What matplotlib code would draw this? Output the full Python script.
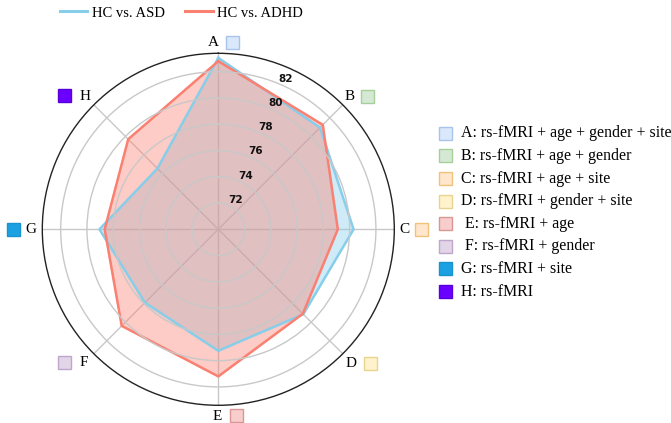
import numpy as np
import matplotlib.pyplot as plt
from matplotlib.patches import Rectangle
from matplotlib.lines import Line2D

# Axis letters and the feature set behind each one
letters = ["A", "B", "C", "D", "E", "F", "G", "H"]
feature_sets = [
    "A: rs-fMRI + age + gender + site",
    "B: rs-fMRI + age + gender",
    "C: rs-fMRI + age + site",
    "D: rs-fMRI + gender + site",
    " E: rs-fMRI + age",
    " F: rs-fMRI + gender",
    "G: rs-fMRI + site",
    "H: rs-fMRI",
]

# Accuracy (%) per feature set
asd = [83.05, 80.95, 80.3, 79.15, 79.25, 77.9, 79.05, 76.55]
adhd = [82.8, 81.25, 79.1, 79.1, 81.2, 80.4, 78.65, 79.7]

r_ticks = [72, 74, 76, 78, 80, 82]

# square colours (face, edge)
sq_face = ["#DAE8FC", "#D5E8D4", "#FFE6CC", "#FFF2CC", "#F8CECC", "#E1D5E7", "#1BA1E2", "#6A00FF"]
sq_edge = ["#A9C4EB", "#A7CF9A", "#F0C27A", "#E8D48E", "#D99694", "#C0A6CC", "#1893CF", "#5A00DD"]

blue = "#87CEEB"
red = "#FA8072"

plt.rcParams["font.family"] = ["Liberation Serif", "DejaVu Serif"]

fig = plt.figure(figsize=(6.71, 4.23), dpi=100)
W, H = 671, 423
cx, cy, R = 218.3, 229.3, 176
ax = fig.add_axes([(cx - R) / W, (H - cy - R) / H, 2 * R / W, 2 * R / H], polar=True)
ax.set_theta_offset(np.pi / 2)
ax.set_theta_direction(-1)

theta = np.linspace(0, 2 * np.pi, len(letters), endpoint=False)
th = np.append(theta, theta[0])

ax.fill(th, asd + asd[:1], color=blue, alpha=0.4, zorder=2)
ax.plot(th, asd + asd[:1], color=blue, lw=1.8, zorder=3)
ax.fill(th, adhd + adhd[:1], color=red, alpha=0.4, zorder=2)
ax.plot(th, adhd + adhd[:1], color=red, lw=1.8, zorder=3)

ax.set_ylim(70, 83.4)
ax.set_yticks(r_ticks)
ax.set_yticklabels([str(t) for t in r_ticks], family="DejaVu Sans", fontweight="bold",
                   fontsize=7.5, color="#111111")
ax.set_rlabel_position(22.5)
ax.set_xticks(theta)
ax.set_xticklabels([])
ax.grid(color="#c8c8c8", lw=1)
ax.yaxis.set_zorder(4)
ax.spines["polar"].set_color("#222222")
ax.spines["polar"].set_linewidth(1)

# letter + square offsets (pixels) from the outer circle
letter_off = [(-5, 11), (7, 8), (10, 0), (8, -10), (-1, -11), (-10, -9), (-11, 0), (-9, 8)]
square_off = [(14, 11), (25, 8), (27, 0), (28, -10), (18, -10), (-29.5, -9), (-29, 0), (-29.5, 9)]
for i, t in enumerate(theta):
    ax.annotate(letters[i], xy=(t, 83.4), xytext=letter_off[i], textcoords="offset pixels",
                ha="center", va="center", fontsize=11, annotation_clip=False)
    sx = cx + R * np.sin(t) + square_off[i][0]
    sy = H - (cy - R * np.cos(t)) + square_off[i][1]
    fig.patches.append(Rectangle(((sx - 6.5) / W, (sy - 6.5) / H), 13 / W, 13 / H,
                                 transform=fig.transFigure, facecolor=sq_face[i],
                                 edgecolor=sq_edge[i], lw=1))

# feature set key on the right
for i, lab in enumerate(feature_sets):
    y = 133.3 + i * 22.6
    fig.patches.append(Rectangle(((445 - 6.5) / W, (H - y - 6.5) / H), 13 / W, 13 / H,
                                 transform=fig.transFigure, facecolor=sq_face[i],
                                 edgecolor=sq_edge[i], lw=1))
    fig.text(461.5 / W, (H - y) / H, lab, fontsize=11.4, va="center", ha="left")

handles = [Line2D([], [], color=blue, lw=2.2), Line2D([], [], color=red, lw=2.2)]
fig.legend(handles, ["HC vs. ASD", "HC vs. ADHD"], loc="center", ncol=2,
           bbox_to_anchor=(181.5 / W, 1 - 13 / H), frameon=False, fontsize=10.5,
           handlelength=1.9, columnspacing=1.4, handletextpad=0.3)

fig.savefig("out.png", dpi=100)
